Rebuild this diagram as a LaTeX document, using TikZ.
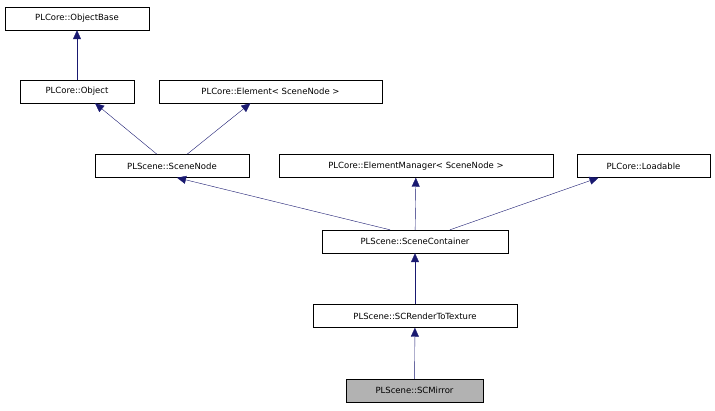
\documentclass[tikz,border=0pt]{standalone}
\usepackage{fontspec}
\setmainfont{DejaVu Sans}
\usetikzlibrary{arrows.meta}
\definecolor{edgeblue}{RGB}{25,25,112}
\begin{document}
\begin{tikzpicture}[x=1pt,y=-1pt,
		cls/.style={draw,fill=white,inner sep=0pt,minimum height=23pt,font=\fontsize{8.5}{10}\selectfont},
		inh/.style={draw=edgeblue,-{Triangle[length=9pt,width=8pt,fill=edgeblue]}}]
		\useasboundingbox (0,0) rectangle (715,411);
		\node[cls,minimum width=144pt] (objbase) at (77,18.5) {PLCore::ObjectBase};
		\node[cls,minimum width=114pt] (obj) at (77,91.5) {PLCore::Object};
		\node[cls,minimum width=223pt] (elem) at (270.5,91.5) {PLCore::Element< SceneNode >};
		\node[cls,minimum width=154pt] (snode) at (172,166) {PLScene::SceneNode};
		\node[cls,minimum width=274pt] (emgr) at (416,166) {PLCore::ElementManager< SceneNode >};
		\node[cls,minimum width=133pt] (load) at (643.5,166) {PLCore::Loadable};
		\node[cls,minimum width=186pt] (scont) at (415,241.5) {PLScene::SceneContainer};
		\node[cls,minimum width=204pt] (rtt) at (415,316) {PLScene::SCRenderToTexture};
		\node[cls,fill=black!30,minimum width=137pt] (mirror) at (414.5,390.5) {PLScene::SCMirror};
		% inheritance edges
		\draw[inh] (obj) -- (objbase);
		\draw[inh] ([xshift=-15pt]snode.north) -- ([xshift=18pt]obj.south);
		\draw[inh] ([xshift=15pt]snode.north) -- ([xshift=-20pt]elem.south);
		\draw[inh] ([xshift=-25pt]scont.north) -- ([xshift=5pt]snode.south);
		\draw[inh] (scont) -- (emgr);
		\draw[inh] ([xshift=35pt]scont.north) -- ([xshift=-45pt]load.south);
		\draw[inh] (rtt) -- (scont);
		\draw[inh] (mirror) -- (rtt);
\end{tikzpicture}
\end{document}
